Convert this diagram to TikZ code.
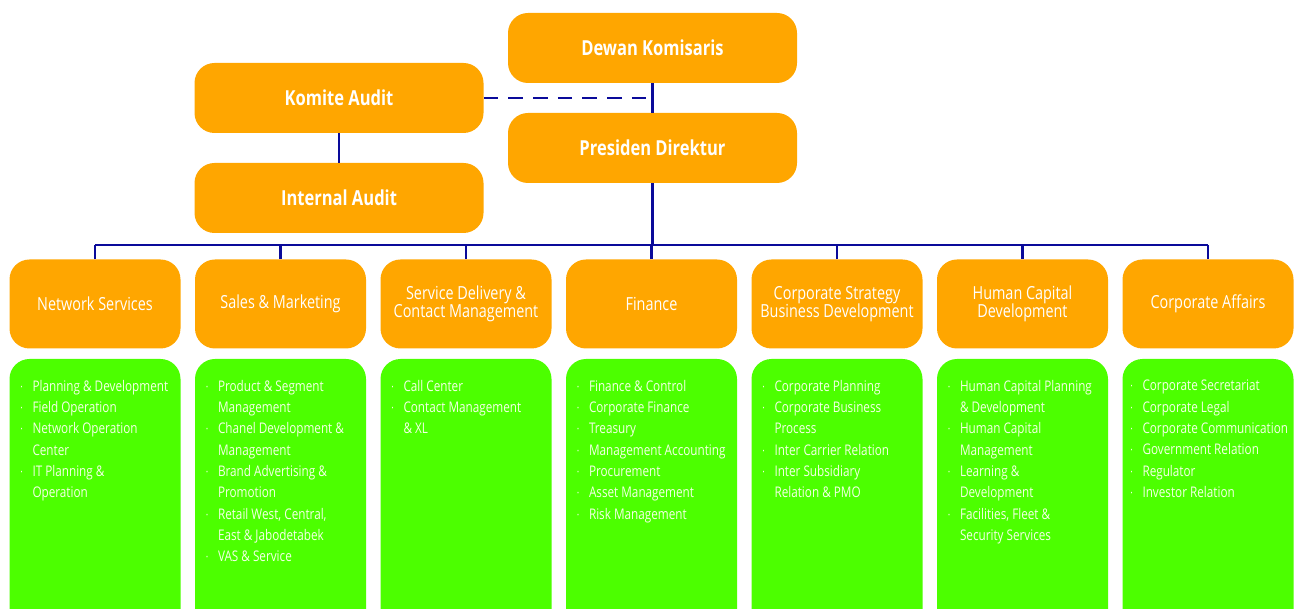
\documentclass[tikz,border=0pt]{standalone}
\usepackage{fontspec}
\setmainfont{Open Sans}[FakeStretch=0.8]
\definecolor{orgc}{HTML}{FFA600}
\definecolor{grnc}{HTML}{4CFF00}
\definecolor{linec}{HTML}{0A0A9A}
\definecolor{itemc}{HTML}{F4FFE6}
\newcommand\bi{\makebox[9pt][l]{\raisebox{1.5pt}{\tiny\textbullet}}}
\newcommand\ci{\hspace*{9pt}}
\begin{document}
\begin{tikzpicture}[x=0.75pt,y=-0.75pt,
  topbox/.style={fill=orgc, rounded corners=15pt, minimum width=216.75pt, minimum height=52.5pt, inner sep=0pt, text=white, font=\fontsize{15.5}{17}\selectfont\bfseries},
  headbox/.style={fill=orgc, rounded corners=15pt, minimum width=128.25pt, minimum height=66.75pt, inner sep=0pt, text=white, align=center, font=\fontsize{13.5}{13.5}\selectfont},
  greenbox/.style={fill=grnc, rounded corners=15pt, minimum width=128.25pt, minimum height=210pt, inner sep=0pt},
  itemtext/.style={anchor=north west, inner sep=0pt, align=left, text=itemc, font=\fontsize{11}{16}\selectfont},
  conn/.style={draw=linec, line width=2pt},
  dashconn/.style={conn, dash pattern=on 11pt off 7.5pt}]
\useasboundingbox (0,0) rectangle (1297,609);
\clip (0,0) rectangle (1297,609);
% top management
\node[topbox] (dk) at (652.5,48) {Dewan Komisaris};
\node[topbox] (ka) at (339,98) {Komite Audit};
\node[topbox] (pd) at (652.5,148) {Presiden Direktur};
\node[topbox] (ia) at (339,198) {Internal Audit};
% headers
\node[headbox] (h1) at (95,304) {Network Services};
\node[headbox] (h2) at (280.5,304) {Sales \& Marketing};
\node[headbox] (h3) at (466,304) {Service Delivery \&\\Contact Management};
\node[headbox] (h4) at (651.5,304) {Finance};
\node[headbox] (h5) at (837,304) {Corporate Strategy\\Business Development};
\node[headbox] (h6) at (1022.5,304) {Human Capital\\Development};
\node[headbox] (h7) at (1208,304) {Corporate Affairs};
% green boxes
\foreach \i/\x in {1/95,2/280.5,3/466,4/651.5,5/837,6/1022.5,7/1208}{
  \node[greenbox] (g\i) at (\x,499) {};
}
\node[itemtext] (t1) at ([shift={(11,21)}]g1.north west) {\bi Planning \& Development\\\bi Field Operation\\\bi Network Operation\\\ci Center\\\bi IT Planning \&\\\ci Operation};
\node[itemtext] (t2) at ([shift={(11,21)}]g2.north west) {\bi Product \& Segment\\\ci Management\\\bi Chanel Development \&\\\ci Management\\\bi Brand Advertising \&\\\ci Promotion\\\bi Retail West, Central,\\\ci East \& Jabodetabek\\\bi VAS \& Service};
\node[itemtext] (t3) at ([shift={(11,21)}]g3.north west) {\bi Call Center\\\bi Contact Management\\\ci \& XL};
\node[itemtext] (t4) at ([shift={(11,21)}]g4.north west) {\bi Finance \& Control\\\bi Corporate Finance\\\bi Treasury\\\bi Management Accounting\\\bi Procurement\\\bi Asset Management\\\bi Risk Management};
\node[itemtext] (t5) at ([shift={(11,21)}]g5.north west) {\bi Corporate Planning\\\bi Corporate Business\\\ci Process\\\bi Inter Carrier Relation\\\bi Inter Subsidiary\\\ci Relation \& PMO};
\node[itemtext] (t6) at ([shift={(11,21)}]g6.north west) {\bi Human Capital Planning\\\ci \& Development\\\bi Human Capital\\\ci Management\\\bi Learning \&\\\ci Development\\\bi Facilities, Fleet \&\\\ci Security Services};
\node[itemtext] (t7) at ([shift={(8,21)}]g7.north west) {\bi Corporate Secretariat\\\bi Corporate Legal\\\bi Corporate Communication\\\bi Government Relation\\\bi Regulator\\\bi Investor Relation};
% connectors
\coordinate (dj) at (ka.east -| dk.south);
\draw[conn] (dk.south) -- (pd.north);
\draw[dashconn] (ka.east) -- (dj);
\draw[conn] (ka.south) -- (ia.north);
\coordinate (busL) at (95,245);
\coordinate (busR) at (1208,245);
\draw[conn] (pd.south) -- (pd.south |- busL);
\draw[conn] (busL) -- (busR);
\foreach \i in {1,...,7}{
  \draw[conn] (h\i.north) -- (h\i.north |- busL);
}
\end{tikzpicture}
\end{document}
